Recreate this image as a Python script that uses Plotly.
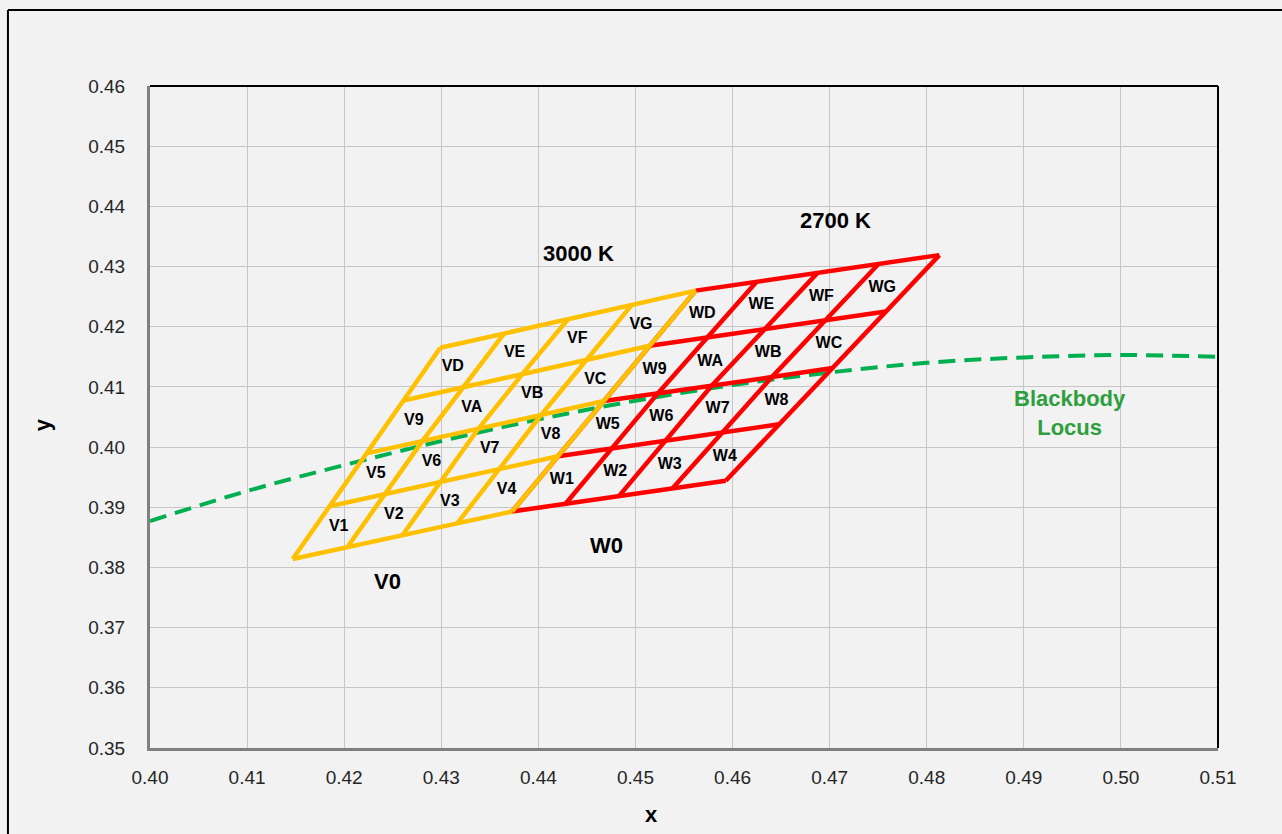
import plotly.graph_objects as go

# ---------------- data ----------------
# Blackbody (Planckian) locus
locus_x = [0.40, 0.41, 0.42, 0.43, 0.44, 0.45, 0.46, 0.47, 0.48, 0.49, 0.50, 0.51]
locus_y = [0.3877, 0.3927, 0.3970, 0.4010, 0.4046, 0.4077, 0.4103, 0.4124, 0.4140, 0.4149, 0.4153, 0.4150]

# 3000 K quadrangle sub-bin vertices (rows bottom -> top, columns left -> right)
v_x = [
    [0.4147, 0.42035, 0.4260, 0.43165, 0.4373],
    [0.4185, 0.4242, 0.4299, 0.43596, 0.44203],
    [0.4223, 0.42805, 0.4338, 0.44028, 0.44675],
    [0.4261, 0.43226, 0.43843, 0.44495, 0.45148],
    [0.4299, 0.43648, 0.44305, 0.44963, 0.4562],
]
v_y = [
    [0.3814, 0.38343, 0.38535, 0.38733, 0.3893],
    [0.39018, 0.39218, 0.39418, 0.39633, 0.39848],
    [0.39895, 0.40098, 0.4030, 0.40533, 0.40765],
    [0.40773, 0.40993, 0.41228, 0.41448, 0.41683],
    [0.4165, 0.41888, 0.42125, 0.42363, 0.4260],
]
v_labels = [
    ["V1", "V2", "V3", "V4"],
    ["V5", "V6", "V7", "V8"],
    ["V9", "VA", "VB", "VC"],
    ["VD", "VE", "VF", "VG"],
]

# 2700 K quadrangle sub-bin vertices
w_x = [
    [0.4373, 0.4428, 0.4483, 0.4538, 0.4593],
    [0.44203, 0.44754, 0.45305, 0.45893, 0.4648],
    [0.44675, 0.45228, 0.4578, 0.46405, 0.4703],
    [0.45148, 0.45738, 0.46328, 0.46954, 0.4758],
    [0.4562, 0.46248, 0.46875, 0.47503, 0.4813],
]
w_y = [
    [0.3893, 0.39058, 0.39185, 0.39313, 0.3944],
    [0.39848, 0.39973, 0.40098, 0.40238, 0.40378],
    [0.40765, 0.40888, 0.4101, 0.41163, 0.41315],
    [0.41683, 0.41818, 0.41953, 0.42103, 0.42253],
    [0.4260, 0.42748, 0.42895, 0.43043, 0.4319],
]
w_labels = [
    ["W1", "W2", "W3", "W4"],
    ["W5", "W6", "W7", "W8"],
    ["W9", "WA", "WB", "WC"],
    ["WD", "WE", "WF", "WG"],
]

# free text labels
text_labels = ["<b>3000 K</b>", "<b>2700 K</b>", "<b>V0</b>", "<b>W0</b>"]
text_x = [0.4441, 0.4706, 0.4245, 0.4470]
text_y = [0.4322, 0.4376, 0.3776, 0.3836]
locus_label = "<b>Blackbody<br>Locus</b>"
locus_label_x = 0.4948
locus_label_y = 0.4057

x_ticks = [0.40, 0.41, 0.42, 0.43, 0.44, 0.45, 0.46, 0.47, 0.48, 0.49, 0.50, 0.51]
y_ticks = [0.35, 0.36, 0.37, 0.38, 0.39, 0.40, 0.41, 0.42, 0.43, 0.44, 0.45, 0.46]

FONT = "Liberation Sans, Arial, Helvetica, sans-serif"
ORANGE = "#FFC000"
RED = "#FF0000"
GREEN = "#00B050"


def grid_path(gx, gy):
    xs, ys = [], []
    n = len(gx)
    for j in range(n):  # rows
        xs += gx[j] + [None]
        ys += gy[j] + [None]
    for i in range(n):  # columns
        xs += [gx[j][i] for j in range(n)] + [None]
        ys += [gy[j][i] for j in range(n)] + [None]
    return xs, ys


def cell_centers(gx, gy, labels):
    cx, cy, ct = [], [], []
    for j in range(len(labels)):
        for i in range(len(labels[j])):
            cx.append((gx[j][i] + gx[j][i + 1] + gx[j + 1][i] + gx[j + 1][i + 1]) / 4)
            cy.append((gy[j][i] + gy[j][i + 1] + gy[j + 1][i] + gy[j + 1][i + 1]) / 4)
            ct.append(labels[j][i])
    return cx, cy, ct


fig = go.Figure()

fig.add_trace(go.Scatter(
    x=locus_x, y=locus_y, mode="lines", name="Blackbody Locus",
    line=dict(color=GREEN, width=4, dash="17px,9px", shape="spline"),
    hoverinfo="skip"))

wx, wy = grid_path(w_x, w_y)
fig.add_trace(go.Scatter(x=wx, y=wy, mode="lines", name="2700 K",
                         line=dict(color=RED, width=4.5), hoverinfo="skip"))
vx, vy = grid_path(v_x, v_y)
fig.add_trace(go.Scatter(x=vx, y=vy, mode="lines", name="3000 K",
                         line=dict(color=ORANGE, width=4.5), hoverinfo="skip"))

for gx, gy, lab in [(v_x, v_y, v_labels), (w_x, w_y, w_labels)]:
    cx, cy, ct = cell_centers(gx, gy, lab)
    fig.add_trace(go.Scatter(x=cx, y=cy, mode="text", text=ct,
                             textfont=dict(family=FONT, size=16, color="#000000", weight="bold"),
                             textposition="middle center", hoverinfo="skip"))

annotations = []
for t, x, y in zip(text_labels, text_x, text_y):
    annotations.append(dict(x=x, y=y, xref="x", yref="y", text=t, showarrow=False,
                            font=dict(family=FONT, size=22, color="#000000")))
annotations.append(dict(x=locus_label_x, y=locus_label_y, xref="x", yref="y",
                        text=locus_label, showarrow=False,
                        font=dict(family=FONT, size=22, color="#2E9E3E")))
# axis titles
annotations.append(dict(x=0.470, y=-0.101, xref="paper", yref="paper", text="<b>x</b>",
                        showarrow=False, xanchor="center", yanchor="middle",
                        font=dict(family=FONT, size=22, color="#000000")))
annotations.append(dict(x=-0.100, y=0.488, xref="paper", yref="paper", text="<b>y</b>",
                        showarrow=False, xanchor="center", yanchor="middle", textangle=-90,
                        font=dict(family=FONT, size=22, color="#000000")))

shapes = [
    # plot area top / right border
    dict(type="line", xref="paper", yref="paper", x0=0, x1=1, y0=1, y1=1,
         line=dict(color="#000000", width=2)),
    dict(type="line", xref="paper", yref="paper", x0=1, x1=1, y0=0, y1=1,
         line=dict(color="#000000", width=2)),
    # outer chart frame
    dict(type="line", xref="paper", yref="paper", x0=-0.1330, x1=1.2, y0=1.1148, y1=1.1148,
         line=dict(color="#000000", width=2)),
    dict(type="line", xref="paper", yref="paper", x0=-0.1330, x1=-0.1330, y0=-0.3, y1=1.1148,
         line=dict(color="#000000", width=2)),
]

fig.update_layout(
    width=1282, height=834,
    margin=dict(l=150, r=64, t=86, b=86),
    paper_bgcolor="#F2F2F2", plot_bgcolor="#F2F2F2",
    showlegend=False,
    font=dict(family=FONT, color="#262626"),
    annotations=annotations,
    shapes=shapes,
    xaxis=dict(
        range=[0.40, 0.51], tickvals=x_ticks, ticktext=[f"{v:.2f}" for v in x_ticks],
        showgrid=True, gridcolor="#C6C6C6", gridwidth=1, zeroline=False,
        showline=True, linecolor="#808080", linewidth=3,
        ticks="outside", ticklen=10, tickcolor="rgba(0,0,0,0)",
        tickfont=dict(family=FONT, size=19, color="#262626"),
        automargin=False,
    ),
    yaxis=dict(
        range=[0.35, 0.46], tickvals=y_ticks, ticktext=[f"{v:.2f}" for v in y_ticks],
        showgrid=True, gridcolor="#C6C6C6", gridwidth=1, zeroline=False,
        showline=True, linecolor="#808080", linewidth=3,
        ticks="outside", ticklen=18, tickcolor="rgba(0,0,0,0)",
        tickfont=dict(family=FONT, size=19, color="#262626"),
        automargin=False,
    ),
)

fig.write_html("out.html", config={"displayModeBar": False},
               post_script="document.body.style.margin='0';")
